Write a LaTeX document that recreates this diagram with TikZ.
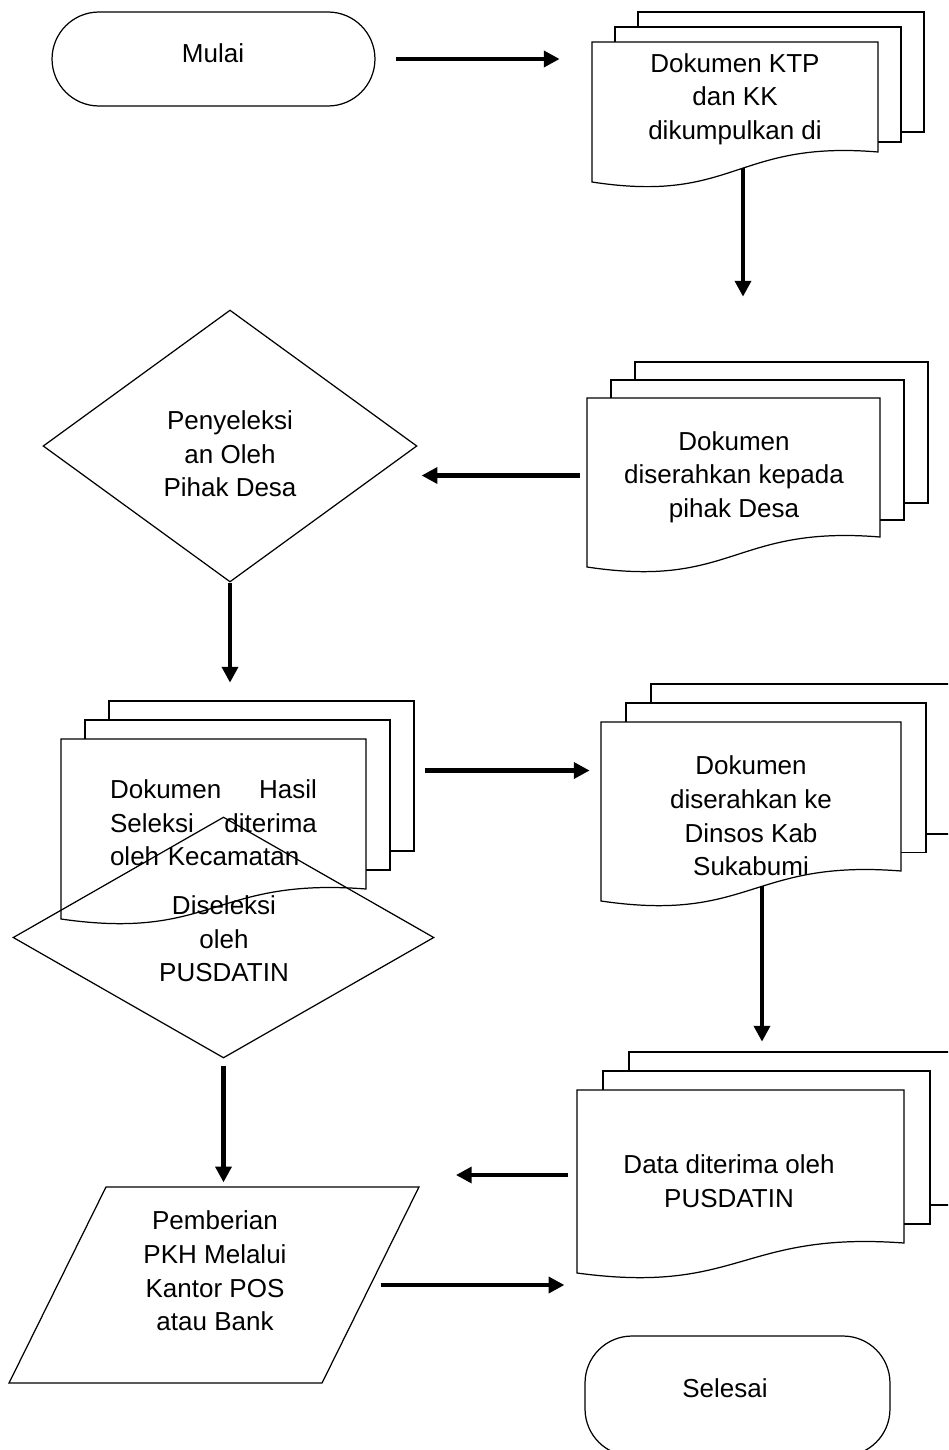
\documentclass[tikz,border=0pt]{standalone}
\usepackage{fontspec}
\setmainfont{Liberation Sans}
\usetikzlibrary{arrows.meta, shapes.geometric, fit, backgrounds}

\tikzset{
	sheet/.style = {draw, fill = white, line width = 0.7pt},
	terminal/.style = {draw, fill = white, line width = 0.7pt, rounded corners = 0.94cm},
	decision/.style = {draw, diamond, line width = 0.7pt, inner sep = 0pt},
	inout/.style = {draw, trapezium, trapezium left angle = 67, trapezium right angle = 113, trapezium stretches = true, line width = 0.7pt, inner sep = 0pt},
	flow/.style = {line width = 2.6pt, -{Triangle[length = 9pt, width = 9pt]}},
	txt/.style = {align = center, font = \fontsize{14.8}{19.1}\selectfont, inner sep = 0pt}
}

% Stack of three sheets: name, left, top, right, bottom right, shift x, shift top, shift bottom
\newcommand{\docstack}[8]{
	\foreach \k in {2, 1}
		\draw [sheet] ({#2 + #6 * \k}, {#3 - #7 * \k}) rectangle ({#4 + #6 * \k}, {#5 - #8 * \k});
	\draw [sheet] (#2, #3) -- (#4, #3) -- (#4, #5) .. controls ({(#2 + #4) / 2}, {#5 - 12}) and ({(#2 + #4) / 2}, {#5 + 52}) .. (#2, {#5 + 30}) -- cycle;
	\path (#2, #3) coordinate (#1-nw) (#4, {#5 + 30}) coordinate (#1-se);
	\node [fit = (#1-nw) (#1-se), inner sep = 0pt] (#1) {};
}

\begin{document}
\begin{tikzpicture}[x = 0.02cm, y = -0.02cm]

	% Frame

	\useasboundingbox (0, 0) rectangle (948, 1450);
	\clip (0, 0) rectangle (948, 1450);

	% Start

	\node [terminal, minimum width = 6.46cm, minimum height = 1.88cm] (mulai) at (213.5, 59) {};
	\node [txt] (mulai-t) at (213, 53) {Mulai};

	% Documents on the right

	\docstack{kumpul}{592}{42}{878}{152}{23}{15}{10}
	\node [txt] (kumpul-t) at (735, 99) {Dokumen KTP\\dan KK\\dikumpulkan di};

	\docstack{serah}{587}{398}{880}{537}{24}{18}{17}
	\node [txt] (serah-t) at (734, 477) {Dokumen\\diserahkan kepada\\pihak Desa};

	% Selection by the village

	\node [decision, fill = white, minimum width = 7.48cm, minimum height = 5.44cm] (seleksi) at (230, 446) {};
	\node [txt] (seleksi-t) at (230, 454) {Penyeleksi\\an Oleh\\Pihak Desa};

	% Result sheets and the PUSDATIN check drawn over them

	\docstack{hasil}{61}{739}{366}{889}{24}{19}{19}
	\node [txt, align = left, text width = 4.14cm] (hasil-t) at (213.5, 823) {Dokumen\hfill Hasil\\Seleksi\hfill diterima\\oleh Kecamatan};

	\node [decision, minimum width = 8.42cm, minimum height = 4.82cm] (pusdatin) at (223.5, 937.5) {};
	\node [txt] (pusdatin-t) at (224, 939) {Diseleksi\\oleh\\PUSDATIN};

	\docstack{dinsos}{601}{722}{901}{871}{25}{19}{18.5}
	\node [txt] (dinsos-t) at (751, 816) {Dokumen\\diserahkan ke\\Dinsos Kab\\Sukabumi};

	\docstack{data}{577}{1090}{904}{1243}{26}{19}{19}
	\node [txt] (data-t) at (729, 1181) {Data diterima oleh\\PUSDATIN};

	% Payment and end

	\node [inout, minimum width = 8.2cm, minimum height = 3.92cm] (bayar) at (214, 1285) {\phantom{x}};
	\node [txt] (bayar-t) at (215, 1271) {Pemberian\\PKH Melalui\\Kantor POS\\atau Bank};

	\node [terminal, minimum width = 6.1cm, minimum height = 2.4cm] (selesai) at (737.5, 1396) {};
	\node [txt] (selesai-t) at (725, 1388) {Selesai};

	% Flow arrows

	\begin{scope}[on background layer]
		\draw [flow, shorten <= 0.4cm, shorten >= 0.64cm] (mulai.east) -- (mulai.east -| kumpul.west);
		\draw [flow, shorten >= 2.02cm] ([xshift = 0.16cm] kumpul.center) -- ([xshift = 0.16cm] kumpul.center |- serah.north);
		\draw [flow, shorten <= 0.14cm, shorten >= 0.08cm] ([yshift = 0.14cm] serah.west) -- ([yshift = 0.14cm] serah.west -| seleksi.east);
		\draw [flow, shorten >= 1.12cm] (seleksi.south) -- (seleksi.south |- hasil.north);
		\draw [flow, shorten <= 1.18cm, shorten >= 0.22cm] ([yshift = 1.17cm] hasil.east) -- ([yshift = 1.17cm] hasil.east -| dinsos.west);
		\draw [flow, shorten >= 0.96cm] ([xshift = 0.22cm] dinsos.center) -- ([xshift = 0.22cm] dinsos.center |- data.north);
		\draw [flow, shorten <= 0.18cm, shorten >= 0.72cm] ([yshift = 0.13cm] data.west) -- ([yshift = 0.13cm] data.west -| bayar.top right corner);
		\draw [flow, shorten <= 0.14cm, shorten >= 0.08cm] (pusdatin.south) -- (pusdatin.south |- bayar.north);
		\draw [flow, shorten <= 0.19cm, shorten >= 0.4cm] (bayar.east) -- (bayar.east -| selesai.west);
	\end{scope}

\end{tikzpicture}
\end{document}
